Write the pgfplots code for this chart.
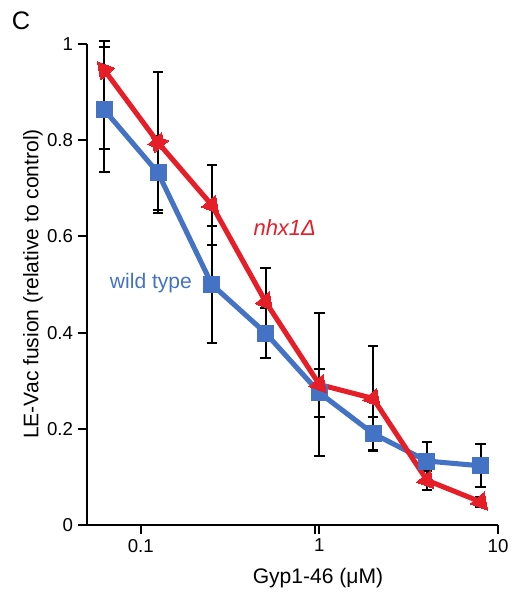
\documentclass[border=0pt]{standalone}
\usepackage{pgfplots}
\pgfplotsset{compat=1.18}
\usepackage{fontspec}
\setmainfont{Liberation Sans}
\definecolor{wtblue}{RGB}{68,114,196}
\definecolor{nhxred}{RGB}{230,30,40}
\begin{document}
\begin{tikzpicture}
\path[use as bounding box] (0,0) rectangle (384.75pt,446.25pt);
\node[font=\fontsize{19}{22}\selectfont] at (15.75pt,430.5pt) {C};
\begin{axis}[
  at={(65.25pt,52.5pt)}, anchor=south west,
  scale only axis, width=308.25pt, height=360.75pt,
  xmode=log, xmin=0.05, xmax=10, ymin=0, ymax=1,
  axis lines*=left, axis line style={line width=1.5pt},
  tick align=outside, major tick length=7pt,
  tick style={line width=1.5pt, black},
  xtick={0.1,0.94,1,10}, xticklabels={0.1,,1,10},
  minor xtick={}, minor tick length=0pt,
  ytick={0,0.2,0.4,0.6,0.8,1},
  /pgf/number format/assume math mode=true,
  ticklabel style={font=\fontsize{14}{16}\selectfont},
  xlabel={Gyp1-46 (μM)}, ylabel={LE-Vac fusion (relative to control)},
  label style={font=\fontsize{15.8}{18}\selectfont},
  xlabel style={at={(axis description cs:0.562,-0.1095)}, anchor=center},
  ylabel style={at={(axis description cs:-0.1316,0.501)}, anchor=center},
  clip=false,
  error bars/y dir=both, error bars/y explicit,
  error bars/error bar style={line width=1.5pt, black},
  error bars/error mark options={rotate=90, mark size=4pt, line width=1.5pt, black},
]
% error bars (drawn first)
\addplot[draw=none, mark=none] coordinates {
 (0.0625,0.863) +- (0,0.13)
 (0.125,0.732) +- (0,0.077)
 (0.25,0.500) +- (0,0.122)
 (0.5,0.399) +- (0,0.052)
 (1,0.275) +- (0,0.05)
 (2,0.190) +- (0,0.034)
 (4,0.133) +- (0,0.04)
 (8,0.123) +- (0,0.045)
};
\addplot[draw=none, mark=none] coordinates {
 (0.0625,0.946) += (0,0.06) -= (0,0.165)
 (0.125,0.795) +- (0,0.147)
 (0.25,0.665) +- (0,0.083)
 (0.5,0.464) +- (0,0.07)
 (1,0.292) +- (0,0.148)
 (2,0.263) +- (0,0.11)
 (4,0.093) +- (0,0.02)
 (8,0.048) +- (0,0.01)
};
% lines
\addplot[wtblue, line width=3.8pt, mark=square*, mark size=6pt,
  mark options={solid, line width=0pt, fill=wtblue}] coordinates {
 (0.0625,0.863) (0.125,0.732) (0.25,0.500) (0.5,0.399)
 (1,0.275) (2,0.190) (4,0.133) (8,0.123)
};
\addplot[nhxred, line width=3.8pt, mark=triangle*, mark size=8pt,
  mark options={solid, line width=0pt, fill=nhxred, rotate=-140}] coordinates {
 (0.125,0.795) (0.25,0.665) (0.5,0.464)
 (1,0.292) (2,0.263) (4,0.093) (8,0.048)
};
\addplot[nhxred, line width=3.8pt, mark=triangle*, mark size=8pt,
  mark options={solid, line width=0pt, fill=nhxred, rotate=40}] coordinates {
 (0.0625,0.946) (0.125,0.795)
};
\node[wtblue, font=\fontsize{15.8}{18}\selectfont] at (axis cs:0.114,0.502) {wild type};
\node[nhxred, font=\fontsize{16.5}{19}\selectfont\itshape] at (axis cs:0.64,0.619) {nhx1Δ};
\end{axis}
\end{tikzpicture}
\end{document}
